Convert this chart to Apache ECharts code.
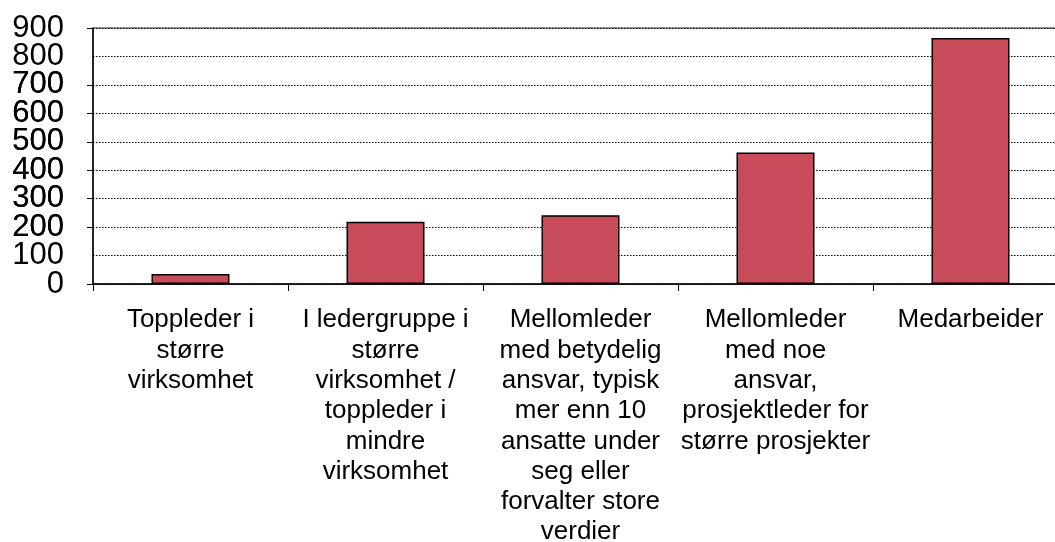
<!DOCTYPE html>
<html>
<head>
<meta charset="utf-8">
<script src="https://cdn.jsdelivr.net/npm/echarts@6/dist/echarts.min.js"></script>
<style>
html, body { margin: 0; padding: 0; background: #fff; overflow: hidden; }
#chart { width: 1055px; height: 542px; }
</style>
</head>
<body>
<div id="chart"></div>
<script>
// categories (line breaks as in the original axis labels)
const categories = [
  'Toppleder i\nstørre\nvirksomhet',
  'I ledergruppe i\nstørre\nvirksomhet /\ntoppleder i\nmindre\nvirksomhet',
  'Mellomleder\nmed betydelig\nansvar, typisk\nmer enn 10\nansatte under\nseg eller\nforvalter store\nverdier',
  'Mellomleder\nmed noe\nansvar,\nprosjektleder for\nstørre prosjekter',
  'Medarbeider'
];
const values = [35, 219, 242, 462, 865];
const yTicks = [0, 100, 200, 300, 400, 500, 600, 700, 800, 900];

const chart = echarts.init(document.getElementById('chart'));

const font = 'Liberation Sans, Arial, sans-serif';
const yMin = yTicks[0];
const yMax = yTicks[yTicks.length - 1];

const yLabel = {
  margin: 29,
  color: '#000',
  fontFamily: font,
  fontSize: 31
};

chart.setOption({
  animation: false,
  grid: {
    left: 93,
    top: 28,
    width: 975, // plot area runs past the right edge, as in the original
    height: 256,
    show: true,
    borderColor: '#222',
    borderWidth: 1,
    outerBoundsMode: 'none',
    containLabel: false
  },
  xAxis: {
    type: 'category',
    data: categories,
    axisLine: { lineStyle: { color: '#000', width: 1.5 } },
    axisTick: { show: true, length: 7, lineStyle: { color: '#000', width: 1 } },
    axisLabel: {
      interval: 0,
      margin: 21,
      color: '#000',
      fontFamily: font,
      fontSize: 26,
      lineHeight: 30.3,
      align: 'center'
    }
  },
  yAxis: [{
    // main axis: line, ticks, grid, and the 0 / 900 labels
    type: 'value',
    min: yMin,
    max: yMax,
    interval: 100,
    axisLine: { show: true, lineStyle: { color: '#000', width: 1.5 } },
    axisTick: { show: true, length: 6, lineStyle: { color: '#000' } },
    axisLabel: Object.assign({ showMinLabel: true, showMaxLabel: true }, yLabel),
    splitLine: { lineStyle: { color: '#000', width: 1, type: [1.5, 1.5] } }
  }, {
    // same scale, only for the inner labels that the big font would otherwise drop
    type: 'value',
    position: 'left',
    min: yMin,
    max: yMax,
    interval: 100,
    axisLine: { show: false },
    axisTick: { show: false },
    splitLine: { show: false },
    axisLabel: Object.assign({ showMinLabel: false, showMaxLabel: false }, yLabel)
  }],
  series: [{
    type: 'bar',
    data: values,
    barWidth: '40%',
    itemStyle: {
      color: '#C84B5A',
      borderColor: '#000',
      borderWidth: 1.5
    }
  }]
});
</script>
</body>
</html>
